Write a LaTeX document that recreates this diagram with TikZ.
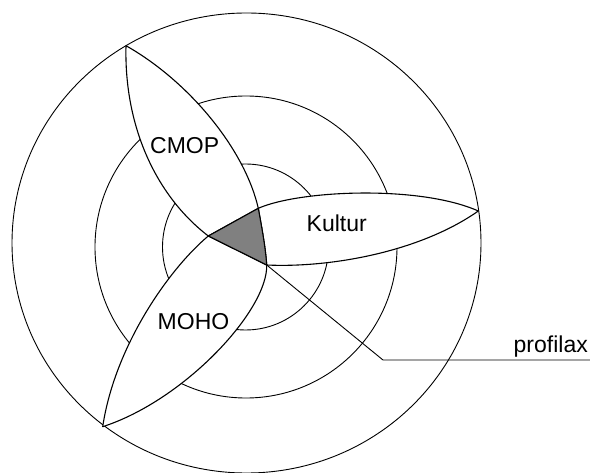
\documentclass[tikz,border=0pt]{standalone}
\usepackage{fontspec}
\setmainfont{Liberation Sans}
\begin{document}
\begin{tikzpicture}[x=1pt,y=-1pt,
  ring/.style={draw=black,line width=0.9pt},
  leaf/.style={draw=black,fill=white,line width=1.1pt,line join=round},
  tri/.style={draw=black,fill={rgb,255:red,128;green,128;blue,128},line width=1.1pt,line join=round},
  lbl/.style={anchor=base west,inner sep=0pt,font=\fontsize{23}{27}\selectfont}]
\useasboundingbox (0,0) rectangle (590,473);
\coordinate (A) at (208.3,236);
\coordinate (B) at (258.3,208.3);
\coordinate (C) at (266.7,265);
\coordinate (tc) at (126,45.7);
\coordinate (tk) at (478.3,211);
\coordinate (tm) at (102.7,426.7);
\coordinate (bend) at (383,360);
\coordinate (lend) at (590,360);
% rings
\draw[ring] (246.5,243) ellipse [x radius=234.5, y radius=230];
\draw[ring] (246,247) circle [radius=151];
\draw[ring] (245.5,247) circle [radius=83];
% leaves
\draw[leaf] (tc) .. controls (190,82) and (245,150) .. (B) -- (A) .. controls (155,195) and (124,125) .. cycle;
\draw[leaf] (B) .. controls (300,190) and (420,185) .. (tk) .. controls (420,252) and (330,268) .. (C) .. controls (265.5,247) and (261.5,226) .. cycle;
\draw[leaf] (A) .. controls (170,268) and (115,345) .. (tm) .. controls (185,400) and (268,310) .. (C) -- cycle;
% centre triangle
\draw[tri] (A) -- (B) .. controls (261.5,226) and (265.5,247) .. (C) -- cycle;
% leader
\draw[ring] (C) -- (bend) -- (lend);
% labels
\node[lbl] (cmop) at (150,154) {CMOP};
\node[lbl] (kultur) at (306.5,232) {Kultur};
\node[lbl] (moho) at (157.5,330) {MOHO};
\node[lbl] (prof) at (513.5,353) {profilax};
\end{tikzpicture}
\end{document}
